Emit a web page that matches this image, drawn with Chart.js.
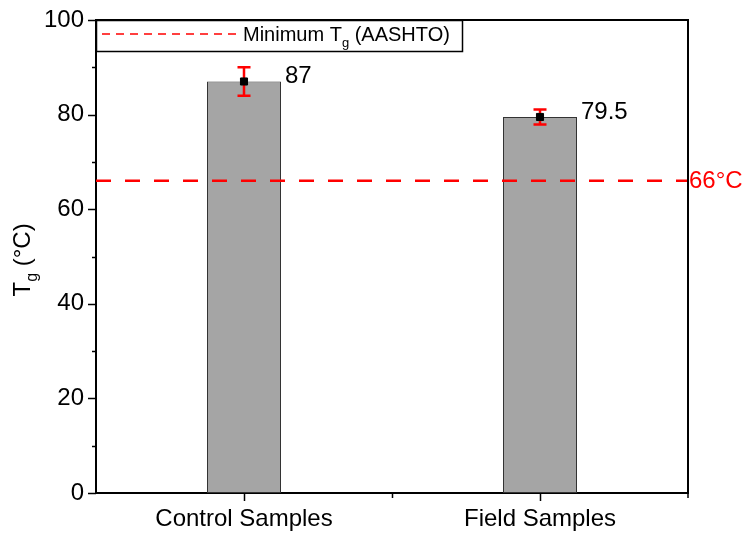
<!DOCTYPE html>
<html>
<head>
<meta charset="utf-8">
<script src="https://cdn.jsdelivr.net/npm/chart.js@4"></script>
<style>
  html, body { margin: 0; padding: 0; background: #fff; }
  #wrap { width: 744px; height: 536px; }
</style>
</head>
<body>
<div id="wrap"><canvas id="tgChart" width="744" height="536"></canvas></div>
<script>
// Tg of control vs field samples, with AASHTO minimum

const categories = ['Control Samples', 'Field Samples'];
const tgMean = [87, 79.5];
const tgErr = [3, 1.6];
const minTg = 66;
const minTgLabel = '66°C';
const yMin = 0, yMax = 100, yStep = 20;

const FONT = '"Liberation Sans", Arial, sans-serif';

function drawSubText(ctx, parts, x, y, size) {
    // parts: [text, isSub]
    let cx = x;
    parts.forEach(([txt, sub]) => {
        ctx.font = (sub ? Math.round(size * 0.65) : size) + 'px ' + FONT;
        ctx.fillText(txt, cx, sub ? y + size * 0.3 : y);
        cx += ctx.measureText(txt).width;
    });
    return cx;
}

const decorPlugin = {
    id: 'decor',
    afterDatasetDraw(chart, args) {
        if (args.index !== 0) return;
        const ctx = chart.ctx;
        const xs = chart.scales.x, ys = chart.scales.y;
        ctx.save();
        ctx.strokeStyle = '#ff0000';
        ctx.lineWidth = 2.5;
        tgMean.forEach((v, i) => {
            const x = xs.getPixelForValue(i);
            const yHi = ys.getPixelForValue(v + tgErr[i]);
            const yLo = ys.getPixelForValue(v - tgErr[i]);
            ctx.beginPath();
            ctx.moveTo(x, yHi); ctx.lineTo(x, yLo);
            ctx.moveTo(x - 6.5, yHi); ctx.lineTo(x + 6.5, yHi);
            ctx.moveTo(x - 6.5, yLo); ctx.lineTo(x + 6.5, yLo);
            ctx.stroke();
        });
        ctx.restore();
    },
    afterDraw(chart) {
        const ctx = chart.ctx;
        const area = chart.chartArea;
        const xs = chart.scales.x, ys = chart.scales.y;
        ctx.save();

        // threshold line
        const yT = ys.getPixelForValue(minTg);
        ctx.strokeStyle = '#ff0000';
        ctx.lineWidth = 2.4;
        ctx.setLineDash([15, 14]);
        ctx.beginPath();
        ctx.moveTo(area.left, yT); ctx.lineTo(area.right, yT);
        ctx.stroke();
        ctx.setLineDash([]);
        ctx.fillStyle = '#ff0000';
        ctx.font = '24px ' + FONT;
        ctx.textAlign = 'left';
        ctx.textBaseline = 'middle';
        ctx.fillText(minTgLabel, area.right + 1, yT + 1);

        // frame top + right
        ctx.strokeStyle = '#000';
        ctx.lineWidth = 2;
        ctx.beginPath();
        ctx.moveTo(area.left, area.top); ctx.lineTo(area.right, area.top);
        ctx.lineTo(area.right, area.bottom);
        ctx.stroke();

        // ticks
        ctx.lineWidth = 1.5;
        ctx.beginPath();
        for (let v = yMin; v <= yMax; v += yStep) {
            const y = Math.round(ys.getPixelForValue(v)) + 0.5;
            ctx.moveTo(area.left - 8, y); ctx.lineTo(area.left, y);
            if (v + yStep / 2 < yMax) {
                const ym = Math.round(ys.getPixelForValue(v + yStep / 2)) + 0.5;
                ctx.moveTo(area.left - 4, ym); ctx.lineTo(area.left, ym);
            }
        }
        categories.forEach((c, i) => {
            const x = Math.round(xs.getPixelForValue(i)) + 0.5;
            ctx.moveTo(x, area.bottom); ctx.lineTo(x, area.bottom + 8);
        });
        const xb = Math.round((xs.getPixelForValue(0) + xs.getPixelForValue(1)) / 2) + 0.5;
        ctx.moveTo(xb, area.bottom); ctx.lineTo(xb, area.bottom + 5);
        ctx.moveTo(area.right, area.bottom); ctx.lineTo(area.right, area.bottom + 5);
        ctx.stroke();

        // value labels
        ctx.fillStyle = '#000';
        ctx.font = '24px ' + FONT;
        ctx.textAlign = 'left';
        ctx.textBaseline = 'middle';
        const bars = chart.getDatasetMeta(0).data;
        tgMean.forEach((v, i) => {
            const b = bars[i];
            ctx.fillText(String(v), b.x + b.width / 2 + 4, ys.getPixelForValue(v) - 5);
        });

        // y axis title
        ctx.save();
        ctx.translate(30, (area.top + area.bottom) / 2);
        ctx.rotate(-Math.PI / 2);
        ctx.textBaseline = 'alphabetic';
        ctx.fillStyle = '#000';
        const w = 80;
        drawSubText(ctx, [['T', false], ['g', true], [' (°C)', false]], -w / 2, 0, 24);
        ctx.restore();

        // legend box
        const lx = area.left, ly = area.top, lw = 366, lh = 31;
        ctx.fillStyle = '#fff';
        ctx.fillRect(lx, ly, lw, lh);
        ctx.strokeStyle = '#000';
        ctx.lineWidth = 1.5;
        ctx.strokeRect(lx + 0.5, ly + 0.5, lw, lh);
        ctx.strokeStyle = '#ff0000';
        ctx.lineWidth = 1.5;
        ctx.setLineDash([8, 6]);
        ctx.beginPath();
        ctx.moveTo(lx + 6, ly + 14); ctx.lineTo(lx + 145, ly + 14);
        ctx.stroke();
        ctx.setLineDash([]);
        ctx.fillStyle = '#000';
        ctx.textBaseline = 'alphabetic';
        drawSubText(ctx, [['Minimum T', false], ['g', true], [' (AASHTO)', false]], lx + 147, ly + 21, 20);

        ctx.restore();
    }
};

new Chart(document.getElementById('tgChart'), {
    data: {
        labels: categories,
        datasets: [
            {
                type: 'bar',
                data: tgMean,
                backgroundColor: '#a5a5a5',
                borderColor: '#333',
                borderWidth: 1,
                borderSkipped: false,
                barPercentage: 0.25,
                categoryPercentage: 1,
                order: 2
            },
            {
                type: 'line',
                data: tgMean,
                showLine: false,
                pointStyle: 'rect',
                pointRadius: 5,
                pointBackgroundColor: '#000',
                pointBorderColor: '#000',
                order: 1
            }
        ]
    },
    options: {
        responsive: false,
        animation: false,
        layout: { padding: { top: 20, right: 56, left: 0, bottom: 0 } },
        plugins: { legend: { display: false }, tooltip: { enabled: false } },
        scales: {
            x: {
                type: 'category',
                offset: true,
                grid: { display: false, drawTicks: false },
                border: { display: true, color: '#000', width: 2 },
                ticks: { color: '#000', font: { family: FONT, size: 24 }, padding: 12, maxRotation: 0 },
                afterFit(scale) { scale.height = 43; scale.paddingLeft = 0; scale.paddingRight = 0; }
            },
            y: {
                min: yMin,
                max: yMax,
                grid: { display: false, drawTicks: false },
                border: { display: true, color: '#000', width: 2 },
                ticks: { stepSize: yStep, color: '#000', font: { family: FONT, size: 24 }, padding: 12 },
                afterFit(scale) { scale.width = 96; scale.paddingTop = 0; scale.paddingBottom = 0; }
            }
        }
    },
    plugins: [decorPlugin]
});
</script>
</body>
</html>
